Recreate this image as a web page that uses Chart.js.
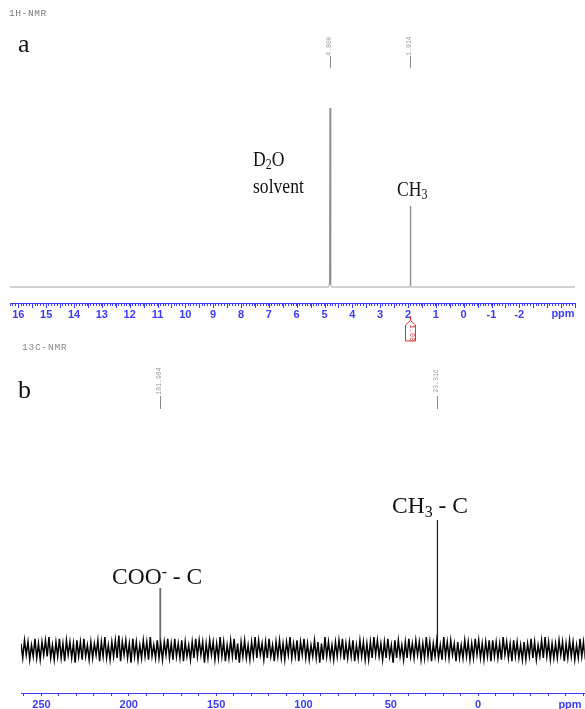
<!DOCTYPE html>
<html><head><meta charset="utf-8">
<script src="https://cdn.jsdelivr.net/npm/chart.js@4"></script>
<style>
body{margin:0;background:#fff;width:585px;height:709px;overflow:hidden;position:relative;}
canvas{position:absolute;left:0;}
.t{position:absolute;white-space:nowrap;line-height:1;}
.serif{font-family:'Liberation Serif','Times New Roman',serif;color:#111;}
.mono{font-family:'Liberation Mono','DejaVu Sans Mono',monospace;color:#8a8a8a;}
.ax{font-family:'Liberation Sans',Arial,sans-serif;font-weight:bold;color:#3c3cf5;}
.serif sub{font-size:68%;vertical-align:baseline;position:relative;top:0.22em;}
.serif sup{font-size:68%;vertical-align:baseline;position:relative;top:-0.45em;}
</style></head><body>
<canvas id="ca" width="585" height="340" style="top:0"></canvas>
<canvas id="cb" width="585" height="369" style="top:340px"></canvas>
<script>
// ---------- 1H-NMR (panel a) ----------
const h1Shift     = [16.3, 4.86, 4.83, 4.81, 4.80, 4.79, 4.77, 4.74, 1.94, 1.925, 1.914, 1.903, 1.89, -4.0];
const h1Intensity = [0,    0,    1.5,  3.5,  100,  3.5,  1.5,  0,    0,    1,     45.3,  1,     0,    0];
const h1PeakLabels = [4.800, 1.914];
const h1IntegralAt = [1.914];
const h1IntegralText = ['1.00'];
const h1TickLabels = [16,15,14,13,12,11,10,9,8,7,6,5,4,3,2,1,0,-1,-2];

// ---------- 13C-NMR (panel b) ----------
const c13NoiseStartPpm = 261.7;
const c13NoiseStepPpm = 1.0;
const c13Noise = [
 4,-5,6,-3,5,-6,3,-4,7,-5,4,-6,5,-3,6,-4,8,-5,
 3,-6,5,-4,7,-5,4,-7,6,-3,5,-5,4,-8,6,-4,5,-6,
 7,-4,3,-6,5,-5,4,-3,6,-7,5,-4,8,-5,3,-6,5,-4,
 6,-5,9,-7,5,-3,6,-5,4,-8,7,-4,5,-6,3,-5,6,-4,
 5,-6,8,-4,3,-5,6,-5,4,-6,5,-3,7,-5,4,-6,7,-4,
 4,-5,6,-7,5,-4,3,-6,5,-5,7,-4,6,-3,5,-8,4,-5,
 6,-3,5,-6,4,-5,8,-4,5,-7,3,-5,6,-4,7,-6,4,-8,
 5,-4,6,-5,3,-6,5,-4,8,-5,6,-3,4,-6,5,-5,7,-4,
 3,-7,5,-4,6,-5,4,-6,5,-3,8,-5,4,-4,6,-7,5,-3,
 7,-5,4,-6,3,-4,6,-5,5,-8,4,-6,8,-4,5,-5,3,-6,
 5,-4,6,-3,7,-6,4,-5,5,-4,6,-7,3,-5,6,-4,5,-6,
 4,-6,5,-5,8,-3,6,-4,4,-6,5,-5,7,-4,3,-8,6,-5,
 6,-4,3,-6,5,-5,7,-4,4,-5,6,-3,5,-6,4,-5,8,-4,
 5,-7,4,-4,6,-5,3,-6,8,-4,5,-5,6,-3,4,-7,5,-5,
 3,-5,6,-4,5,-6,4,-5,7,-3,6,-5,4,-6,5,-4,6,-7,
 6,-4,5,-5,4,-6,8,-3,5,-5,4,-7,6,-4,5,-5,3,-6,
 5,-6,4,-4,7,-5,5,-6,3,-4,6,-5,8,-4,5,-6,4,-5,
 4,-5,6,-3,5,-7,4,-5,6,-4,5,-6,3,-5,7,-4,5,-6
];
const c13PeakShift  = [181.984, 23.316];
const c13PeakHeight = [38.75, 81.25];
const c13PeakLabels = ['181.984', '23.316'];
const c13TickLabels = [250, 200, 150, 100, 50, 0];

const BLUE = '#3c3cf5';
const axisFont = {family:"'Liberation Sans', Arial, sans-serif", weight:'bold', size:11};

function isInt(v){ return Math.abs(v - Math.round(v)) < 1e-6; }

const extraTicksA = {
  id:'extraTicksA',
  afterDraw(chart){
    const x = chart.scales.x, ctx = chart.ctx, y0 = x.top;
    ctx.save(); ctx.strokeStyle = BLUE; ctx.lineWidth = 1;
    for (let k = -8; k <= 32; k++) {
      const v = k/2; const px = Math.round(x.getPixelForValue(v)) + 0.5;
      ctx.beginPath(); ctx.moveTo(px, y0); ctx.lineTo(px, y0 + 5); ctx.stroke();
    }
    ctx.restore();
  }
};

const chartA = new Chart(document.getElementById('ca'), {
  type:'scatter',
  data:{ datasets:[{
    data: h1Shift.map((s,i)=>({x:s, y:h1Intensity[i]})),
    showLine:true, borderColor:'#9a9a9a', borderWidth:1.4, pointRadius:0, tension:0,
    segment:{ borderColor: c => (c.p0.parsed.y > 2 || c.p1.parsed.y > 2) ? '#8c8c8c' : '#c4c4c4' }
  }]},
  options:{
    responsive:false, animation:false, devicePixelRatio:1,
    layout:{padding:{left:10,right:10,top:20,bottom:0}},
    plugins:{legend:{display:false}, tooltip:{enabled:false}},
    scales:{
      x:{ type:'linear', reverse:true, min:-4, max:16.3,
          afterFit: s => { s.height = 37; },
          border:{display:true, color:BLUE, width:1},
          grid:{drawOnChartArea:false, drawTicks:true, tickLength:3, color:BLUE, lineWidth:1},
          ticks:{ stepSize:0.1, autoSkip:false, maxRotation:0, minRotation:0, includeBounds:false, padding:2,
                  color:BLUE, font:axisFont,
                  callback: v => { const r = Math.round(v); return (isInt(v) && h1TickLabels.includes(r)) ? String(r) : ''; } } },
      y:{ display:false, min:-8.94, max:149.2 }
    }
  },
  plugins:[extraTicksA]
});

const chartB = new Chart(document.getElementById('cb'), {
  type:'scatter',
  data:{ datasets:[
    { data: c13Noise.map((v,i)=>({x:c13NoiseStartPpm - i*c13NoiseStepPpm, y:v})),
      showLine:true, borderColor:'#000', borderWidth:1.5, pointRadius:0, tension:0 },
    { data: [{x:c13PeakShift[0], y:0}, {x:c13PeakShift[0], y:c13PeakHeight[0]}],
      showLine:true, borderColor:'#6a6a6a', borderWidth:1.8, pointRadius:0 },
    { data: [{x:c13PeakShift[1], y:0}, {x:c13PeakShift[1], y:c13PeakHeight[1]}],
      showLine:true, borderColor:'#1a1a1a', borderWidth:1.2, pointRadius:0 }
  ]},
  options:{
    responsive:false, animation:false, devicePixelRatio:1,
    layout:{padding:{left:21,right:0,top:75,bottom:0}},
    plugins:{legend:{display:false}, tooltip:{enabled:false}},
    scales:{
      x:{ type:'linear', reverse:true, min:-61, max:261.7,
          afterFit: s => { s.height = 16; },
          border:{display:true, color:BLUE, width:1},
          grid:{drawOnChartArea:false, drawTicks:true, tickLength:3, color:BLUE, lineWidth:1},
          ticks:{ stepSize:10, autoSkip:false, maxRotation:0, minRotation:0, includeBounds:false, padding:2,
                  color:BLUE, font:axisFont,
                  callback: v => c13TickLabels.includes(Math.round(v)) && isInt(v) ? String(Math.round(v)) : '' } },
      y:{ display:false, min:-26.9, max:146.9 }
    }
  }
});

// ---------- text overlays ----------
function txt(html, cls, left, base, fs, asc, extra){
  const d = document.createElement('div');
  d.className = 't ' + cls;
  d.innerHTML = html;
  d.style.left = left + 'px';
  d.style.top = (base - asc*fs) + 'px';
  d.style.fontSize = fs + 'px';
  if (extra) Object.assign(d.style, extra);
  document.body.appendChild(d);
  return d;
}
const SER = 0.8375, SAN = 0.8465, MON = 0.83;
const squeeze = {transform:'scaleX(0.8)', transformOrigin:'0 0'};

txt('1H-NMR', 'mono', 9, 17, 9.5, MON, {letterSpacing:'0.6px', color:'#7a7a7a'});
txt('13C-NMR', 'mono', 22, 351, 9.5, MON, {letterSpacing:'0.8px'});
txt('a', 'serif', 18, 53, 26, SER);
txt('b', 'serif', 18, 399, 26, SER);
txt('D<sub>2</sub>O', 'serif', 253, 166, 22, SER, squeeze);
txt('solvent', 'serif', 253, 193, 22, SER, squeeze);
txt('CH<sub>3</sub>', 'serif', 397, 196, 22, SER, squeeze);
txt('CH<sub>3</sub> - C', 'serif', 392, 514, 23.5, SER);
txt('COO<sup>-</sup> - C', 'serif', 112, 585, 23.5, SER);

// ppm axis unit labels
txt('ppm', 'ax', 563, 317, 11, SAN, {transform:'translateX(-50%)'});
txt('ppm', 'ax', 570, 708, 11, SAN, {transform:'translateX(-50%)'});

function rotLabel(text, cx, cy, fs, color, deg){
  const d = document.createElement('div');
  d.className = 't mono';
  d.textContent = text;
  Object.assign(d.style, {left:cx+'px', top:cy+'px', fontSize:fs+'px', color:color,
    transform:'translate(-50%,-50%) rotate('+deg+'deg)'});
  document.body.appendChild(d);
}
function vline(x, y1, y2, color){
  const d = document.createElement('div');
  Object.assign(d.style, {position:'absolute', left:(x-0.5)+'px', top:y1+'px', width:'1px', height:(y2-y1)+'px', background:color});
  document.body.appendChild(d);
}
// peak pick labels
h1PeakLabels.forEach(p => {
  const px = chartA.scales.x.getPixelForValue(p);
  rotLabel(p.toFixed(3), px, 45.5, 6.5, '#9a9a9a', -90);
  vline(px, 56, 68, '#8a8a8a');
});
c13PeakLabels.forEach((lab, i) => {
  const px = chartB.scales.x.getPixelForValue(c13PeakShift[i]);
  rotLabel(lab, px, 381, 6.5, '#9a9a9a', -90);
  vline(px, 396, 409, '#8a8a8a');
});
// integral mark
h1IntegralAt.forEach((p, i) => {
  const px = chartA.scales.x.getPixelForValue(p);
  const ns = 'http://www.w3.org/2000/svg';
  const svg = document.createElementNS(ns, 'svg');
  svg.setAttribute('width', '16'); svg.setAttribute('height', '26');
  Object.assign(svg.style, {position:'absolute', left:(px-8)+'px', top:'316px'});
  const path = document.createElementNS(ns, 'path');
  path.setAttribute('d', 'M8.5 0 V4.5 L13.5 9 V25 H3.5 V9 L8.5 4.5');
  path.setAttribute('stroke', '#e03030'); path.setAttribute('fill', 'none'); path.setAttribute('stroke-width', '1');
  svg.appendChild(path); document.body.appendChild(svg);
  rotLabel(h1IntegralText[i], px+0.5, 333, 7, '#e03030', 90);
});
</script>
</body></html>
